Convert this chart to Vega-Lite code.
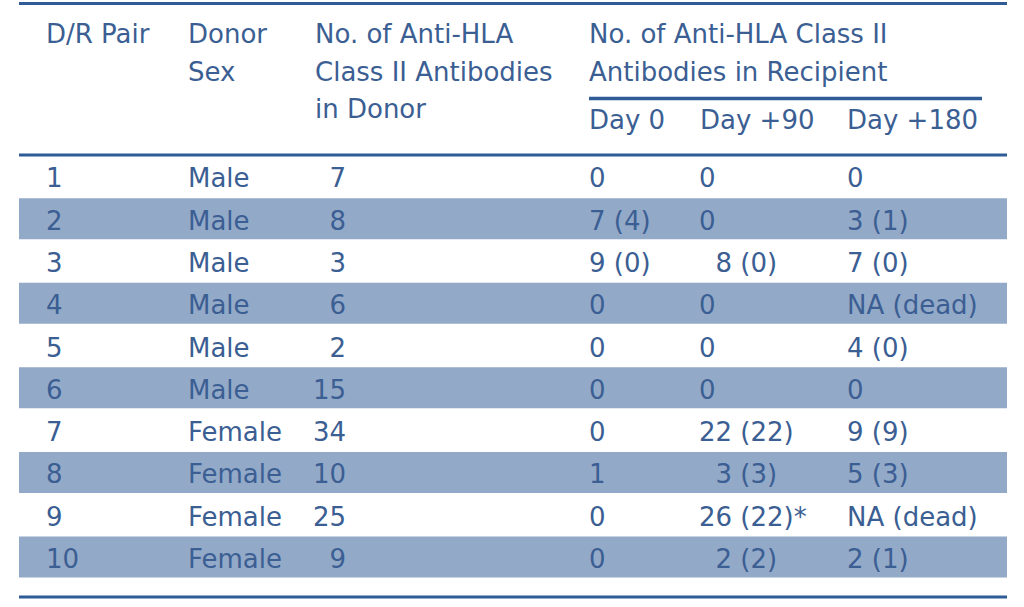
{
  "$schema": "https://vega.github.io/schema/vega-lite/v6.json",
  "width": 1024,
  "height": 607,
  "autosize": {"type": "fit", "contains": "padding"},
  "padding": 0,
  "background": "white",
  "config": {
    "view": {"stroke": null},
    "text": {"font": "DejaVu Sans", "fontSize": 26, "color": "#3b5e93", "baseline": "alphabetic", "align": "left"}
  },
  "datasets": {
    "rows": [
      {"pair": 1, "sex": "Male", "donor": "7", "d0": "0", "d90": "0", "d180": "0"},
      {"pair": 2, "sex": "Male", "donor": "8", "d0": "7 (4)", "d90": "0", "d180": "3 (1)"},
      {"pair": 3, "sex": "Male", "donor": "3", "d0": "9 (0)", "d90": "\u200b\u00a0\u00a08 (0)", "d180": "7 (0)"},
      {"pair": 4, "sex": "Male", "donor": "6", "d0": "0", "d90": "0", "d180": "NA (dead)"},
      {"pair": 5, "sex": "Male", "donor": "2", "d0": "0", "d90": "0", "d180": "4 (0)"},
      {"pair": 6, "sex": "Male", "donor": "15", "d0": "0", "d90": "0", "d180": "0"},
      {"pair": 7, "sex": "Female", "donor": "34", "d0": "0", "d90": "22 (22)", "d180": "9 (9)"},
      {"pair": 8, "sex": "Female", "donor": "10", "d0": "1", "d90": "\u200b\u00a0\u00a03 (3)", "d180": "5 (3)"},
      {"pair": 9, "sex": "Female", "donor": "25", "d0": "0", "d90": "26 (22)*", "d180": "NA (dead)"},
      {"pair": 10, "sex": "Female", "donor": "9", "d0": "0", "d90": "\u200b\u00a0\u00a02 (2)", "d180": "2 (1)"}
    ]
  },
  "encoding": {
    "x": {"type": "quantitative", "scale": {"domain": [0, 1024], "nice": false, "zero": false}, "axis": null},
    "y": {"type": "quantitative", "scale": {"domain": [-3.434, 10.923], "nice": false, "zero": false, "reverse": true}, "axis": null}
  },
  "layer": [
    {
      "data": {"name": "rows"},
      "transform": [{"filter": "datum.pair % 2 == 0"}],
      "mark": {"type": "tick", "orient": "horizontal", "size": 988, "thickness": 41, "color": "#93a9c8", "opacity": 1, "yOffset": -11},
      "encoding": {"x": {"datum": 513}, "y": {"field": "pair"}}
    },
    {
      "data": {"values": [{}]},
      "mark": {"type": "rule", "color": "#2f5b97", "strokeWidth": 3},
      "encoding": {"x": {"datum": 19}, "x2": {"datum": 1007}, "y": {"datum": -3.351}}
    },
    {
      "data": {"values": [{}]},
      "mark": {"type": "rule", "color": "#2f5b97", "strokeWidth": 3.5},
      "encoding": {"x": {"datum": 589}, "x2": {"datum": 982}, "y": {"datum": -1.105}}
    },
    {
      "data": {"values": [{}]},
      "mark": {"type": "rule", "color": "#2f5b97", "strokeWidth": 3},
      "encoding": {"x": {"datum": 19}, "x2": {"datum": 1007}, "y": {"datum": 0.232}}
    },
    {
      "data": {"values": [{}]},
      "mark": {"type": "rule", "color": "#2f5b97", "strokeWidth": 3},
      "encoding": {"x": {"datum": 19}, "x2": {"datum": 1007}, "y": {"datum": 10.686}}
    },
    {
      "data": {"values": [{"t": ["D/R Pair"]}]},
      "mark": {"type": "text", "lineHeight": 37.5},
      "encoding": {"x": {"datum": 46}, "y": {"datum": -2.41}, "text": {"field": "t"}}
    },
    {
      "data": {"values": [{"t": ["Donor", "Sex"]}]},
      "mark": {"type": "text", "lineHeight": 37.5},
      "encoding": {"x": {"datum": 188}, "y": {"datum": -2.41}, "text": {"field": "t"}}
    },
    {
      "data": {"values": [{"t": ["No. of Anti-HLA", "Class II Antibodies", "in Donor"]}]},
      "mark": {"type": "text", "lineHeight": 37.5},
      "encoding": {"x": {"datum": 315}, "y": {"datum": -2.41}, "text": {"field": "t"}}
    },
    {
      "data": {"values": [{"t": ["No. of Anti-HLA Class II", "Antibodies in Recipient"]}]},
      "mark": {"type": "text", "lineHeight": 37.5},
      "encoding": {"x": {"datum": 589}, "y": {"datum": -2.41}, "text": {"field": "t"}}
    },
    {
      "data": {"values": [{"t": "Day 0"}]},
      "mark": {"type": "text"},
      "encoding": {"x": {"datum": 589}, "y": {"datum": -0.383}, "text": {"field": "t"}}
    },
    {
      "data": {"values": [{"t": "Day +90"}]},
      "mark": {"type": "text"},
      "encoding": {"x": {"datum": 700}, "y": {"datum": -0.383}, "text": {"field": "t"}}
    },
    {
      "data": {"values": [{"t": "Day +180"}]},
      "mark": {"type": "text"},
      "encoding": {"x": {"datum": 847}, "y": {"datum": -0.383}, "text": {"field": "t"}}
    },
    {
      "data": {"name": "rows"},
      "mark": {"type": "text"},
      "encoding": {"x": {"datum": 46}, "y": {"field": "pair"}, "text": {"field": "pair", "type": "nominal"}}
    },
    {
      "data": {"name": "rows"},
      "mark": {"type": "text"},
      "encoding": {"x": {"datum": 188}, "y": {"field": "pair"}, "text": {"field": "sex"}}
    },
    {
      "data": {"name": "rows"},
      "mark": {"type": "text", "align": "right"},
      "encoding": {"x": {"datum": 346}, "y": {"field": "pair"}, "text": {"field": "donor"}}
    },
    {
      "data": {"name": "rows"},
      "mark": {"type": "text"},
      "encoding": {"x": {"datum": 589}, "y": {"field": "pair"}, "text": {"field": "d0"}}
    },
    {
      "data": {"name": "rows"},
      "mark": {"type": "text"},
      "encoding": {"x": {"datum": 699}, "y": {"field": "pair"}, "text": {"field": "d90"}}
    },
    {
      "data": {"name": "rows"},
      "mark": {"type": "text"},
      "encoding": {"x": {"datum": 847}, "y": {"field": "pair"}, "text": {"field": "d180"}}
    }
  ]
}
